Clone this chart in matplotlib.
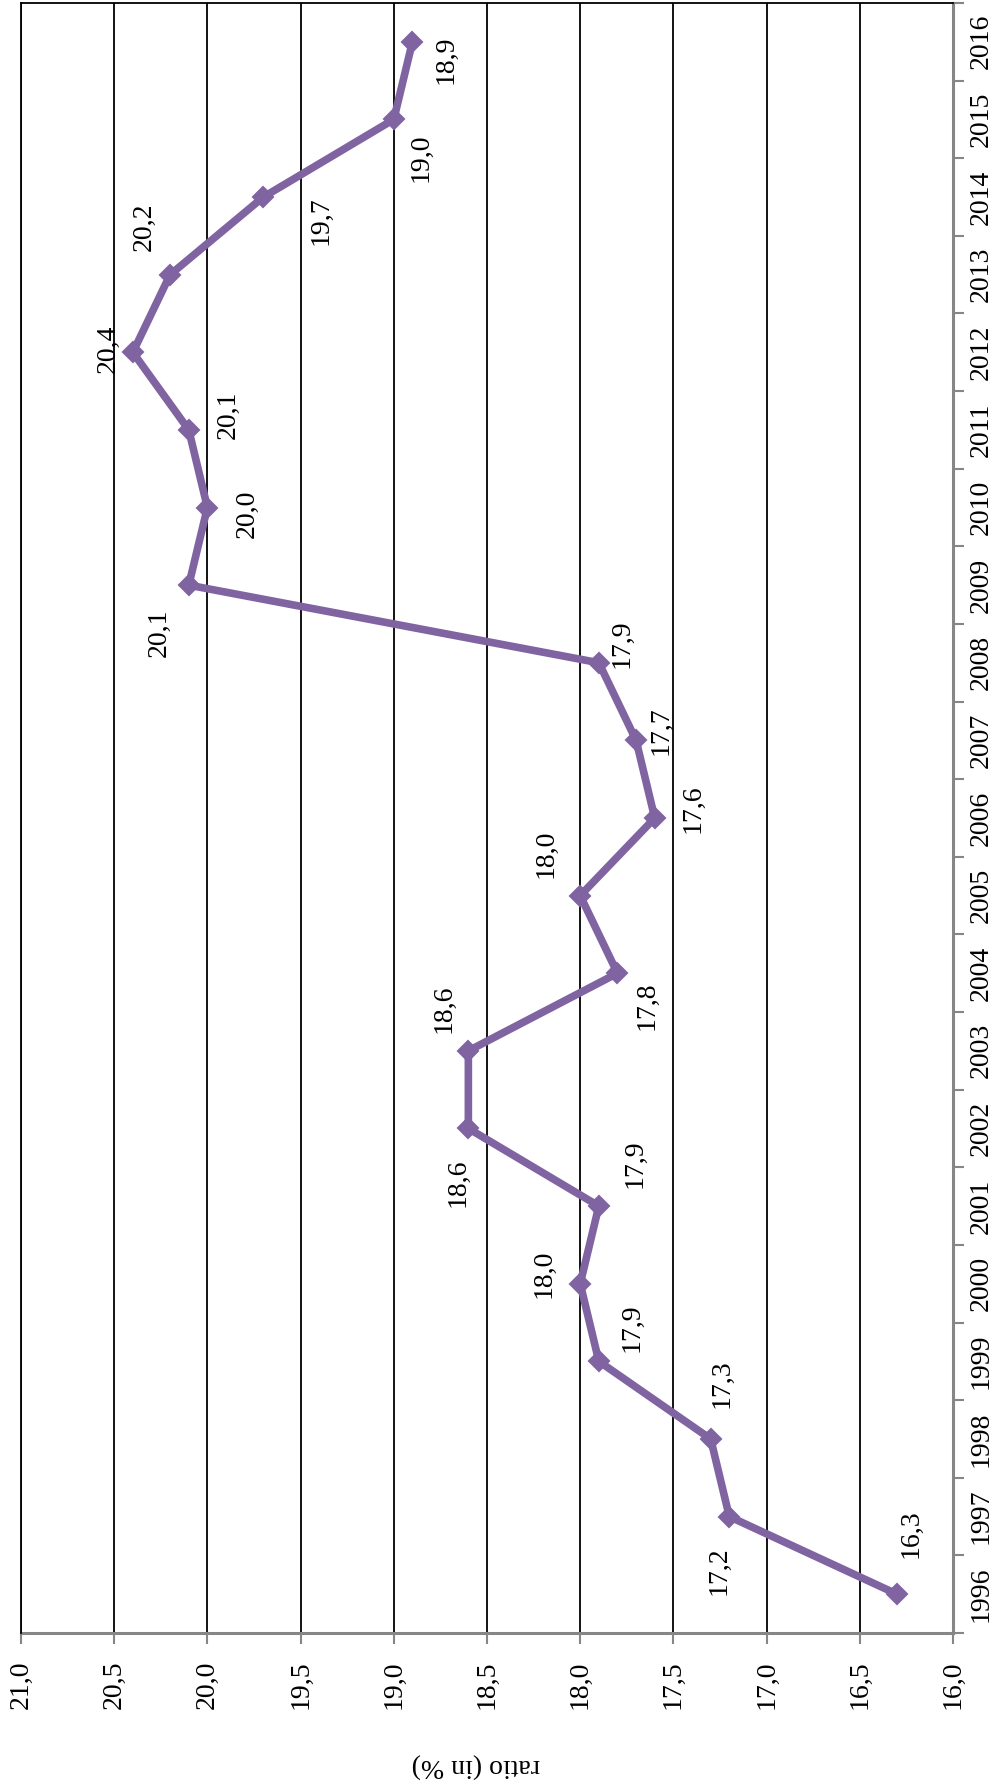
import matplotlib
matplotlib.use("Agg")
import matplotlib.pyplot as plt


years = list(range(1996, 2017))
ratio = [16.3, 17.2, 17.3, 17.9, 18.0, 17.9, 18.6, 18.6, 17.8, 18.0, 17.6,
         17.7, 17.9, 20.1, 20.0, 20.1, 20.4, 20.2, 19.7, 19.0, 18.9]
value_ticks = [21.0, 20.5, 20.0, 19.5, 19.0, 18.5, 18.0, 17.5, 17.0, 16.5, 16.0]

# where each data label sits relative to its marker (pixels: right, down)
label_offsets = [(14, -61), (-10, 54), (11, -55), (33, -34), (-36, -10),
                 (36, -42), (-10, 54), (-24, -42), (30, 33), (-34, -42),
                 (38, -9), (25, -10), (23, -19), (-30, 48), (40, 6),
                 (39, -15), (-25, -3), (-26, -48), (58, 24), (27, 38),
                 (34, 18)]


def comma(v):
    return f"{v:.1f}".replace(".", ",")


plt.rcParams["font.family"] = ["Liberation Serif", "DejaVu Serif"]
purple = "#8064A2"
grey = "#868686"

W, H = 1003, 1785
fig = plt.figure(figsize=(W / 100, H / 100), dpi=100)
ax = fig.add_axes([21 / W, 1 - 1633 / H, (953 - 21) / W, (1633 - 3) / H])

# chart is turned on its side: values run right-to-left, years bottom-to-top
ax.set_xlim(21, 16)
ax.set_ylim(1995.5, 2016.5)

for v in value_ticks[:-1]:
    ax.axvline(v, color="black", lw=1.3, zorder=1)

ax.plot(ratio, years, color=purple, lw=5.5, marker="D", ms=10,
        mec=purple, mew=1.5, zorder=3, solid_joinstyle="miter")

for v, yr, (dx, dy) in zip(ratio, years, label_offsets):
    ax.annotate(comma(v), (v, yr), xytext=(dx, -dy),
                textcoords="offset pixels", rotation=90,
                ha="center", va="center", fontsize=20, zorder=4)

# value axis along the bottom
ax.set_xticks(value_ticks)
ax.set_xticklabels([comma(v) for v in value_ticks], rotation=90, fontsize=20)
ax.tick_params(axis="x", direction="out", length=8, width=1.5, color=grey,
               pad=12)

# year axis along the right
ax.yaxis.tick_right()
ax.set_yticks([y - 0.5 for y in years] + [2016.5])
ax.set_yticklabels([])
ax.set_yticks(years, minor=True)
ax.set_yticklabels([str(y) for y in years], minor=True, rotation=90,
                   va="center", fontsize=20)
ax.tick_params(axis="y", which="major", direction="out", length=8,
               width=1.5, color=grey, right=True, left=False)
ax.tick_params(axis="y", which="minor", length=0, pad=11, right=True,
               left=False)

for side in ["bottom", "right"]:
    ax.spines[side].set_color(grey)
    ax.spines[side].set_linewidth(2.2)
    ax.spines[side].set_zorder(2)
for side in ["top", "left"]:
    ax.spines[side].set_color("black")
    ax.spines[side].set_linewidth(1.3)

fig.text(476 / W, 1 - 1765 / H, "ratio (in %)", rotation=180,
         ha="center", va="center", fontsize=20)

fig.savefig("out.png", dpi=100)
